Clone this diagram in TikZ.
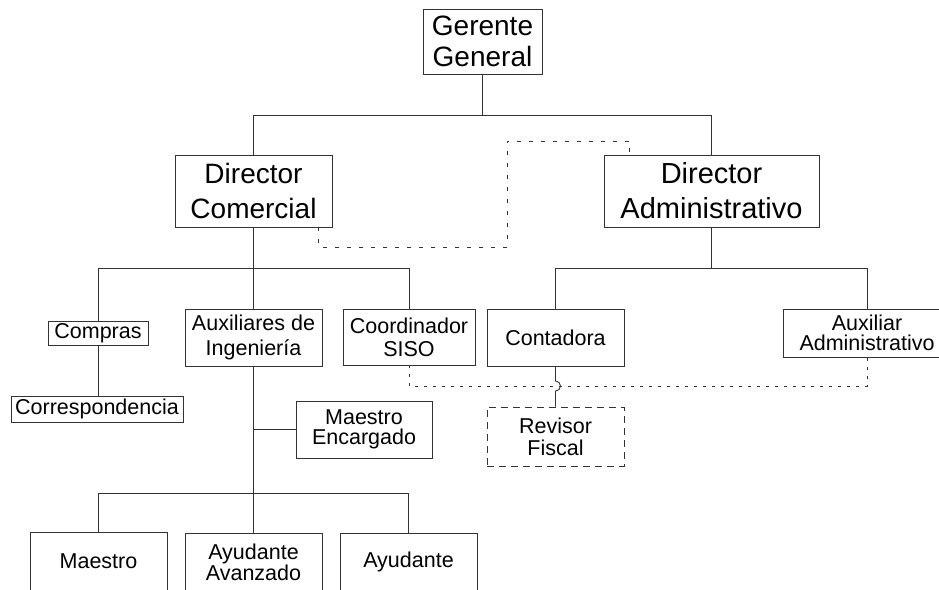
\documentclass[tikz,border=0pt]{standalone}
\usepackage{fontspec}
\setmainfont{Liberation Sans}
\usetikzlibrary{calc}
\newcommand\myfs[2]{\fontsize{#1}{#2}\selectfont}
\begin{document}
\begin{tikzpicture}[x=1pt,y=1pt,
  ln/.style={draw=black!80, line width=0.9pt},
  dline/.style={draw=black!80, line width=0.9pt, dash pattern=on 4pt off 8pt},
  sline/.style={draw=black!80, line width=0.9pt, dash pattern=on 2.5pt off 6.5pt},
  bx/.style={draw=black!80, line width=0.9pt, inner sep=0pt, align=center, font=\myfs{21.5}{20}},
  dbx/.style={bx, dash pattern=on 7pt off 5pt}]
\useasboundingbox (0,0) rectangle (939,-589);
% nodes
\node[bx, minimum width=119pt, minimum height=65pt, font=\myfs{28}{31}] (gg) at (482.5,-41.5) {Gerente\\General};
\node[bx, minimum width=157pt, minimum height=72pt, font=\myfs{28}{35}] (dc) at (253.5,-191) {Director\\Comercial};
\node[bx, minimum width=215pt, minimum height=72pt, font=\myfs{29}{35}] (da) at (711.5,-191) {Director\\Administrativo};
\node[bx, minimum width=100pt, minimum height=24pt] (compras) at (98,-333) {Compras};
\node[bx, minimum width=172pt, minimum height=26pt] (corr) at (97,-409) {Correspondencia};
\node[bx, minimum width=137pt, minimum height=57pt, font=\myfs{21.5}{25}] (aux) at (253.5,-337.5) {Auxiliares de\\Ingeniería};
\node[bx, minimum width=132pt, minimum height=56pt, font=\myfs{21.5}{23}] (coord) at (409,-337) {Coordinador\\SISO};
\node[bx, minimum width=137pt, minimum height=57pt] (cont) at (555.5,-337.5) {Contadora};
\node[bx, minimum width=168pt, minimum height=48pt] (auxadm) at (867,-333) {Auxiliar\\Administrativo};
\node[bx, minimum width=136pt, minimum height=57pt] (me) at (364,-429.5) {Maestro\\Encargado};
\node[dbx, minimum width=137pt, minimum height=59pt, font=\myfs{21.5}{22}] (rev) at (555.5,-436.5) {Revisor\\Fiscal};
\node[bx, minimum width=137pt, minimum height=58pt] (m1) at (98.5,-561) {Maestro};
\node[bx, minimum width=137pt, minimum height=58pt] (m2) at (253.5,-562) {Ayudante\\Avanzado};
\node[bx, minimum width=137pt, minimum height=58pt] (m3) at (408.5,-562) {Ayudante};
% solid connectors
\draw[ln] (gg.south) -- ++(0,-41) coordinate (t1) -| (dc.north);
\draw[ln] (t1) -| (da.north);
\draw[ln] (dc.south) -- ++(0,-41) coordinate (t2) -| (compras.north);
\draw[ln] (t2) -- (aux.north);
\draw[ln] (t2) -| (coord.north);
\draw[ln] (compras.south) -- (compras.south |- corr.north);
\draw[ln] (da.south) -- ++(0,-41) coordinate (t3) -| (cont.north);
\draw[ln] (t3) -| (auxadm.north);
\draw[ln] (aux.south) -- ++(0,-127) coordinate (t4) -| (m1.north);
\draw[ln] (t4) -- (m2.north);
\draw[ln] (t4) -| (m3.north);
\draw[ln] (aux.south |- me.west) -- (me.west);
% dashed link between directors
\coordinate (k1) at (507,-247);
\coordinate (k2) at (507,-141);
\draw[dline] ([xshift=-14pt]dc.south east) |- (k1) -- (k2) -| ([xshift=26pt]da.north west);
% dotted link Coordinador - Auxiliar Administrativo
\coordinate (d1) at (0,-386);
\draw[sline] (coord.south) |- (d1 -| auxadm.south) -- (auxadm.south);
% Contadora - Revisor with hop
\draw[ln] (cont.south) -- ($(cont.south |- d1)+(0,5)$) arc[start angle=90, end angle=-90, radius=5pt] -- (rev.north);
\end{tikzpicture}
\end{document}
